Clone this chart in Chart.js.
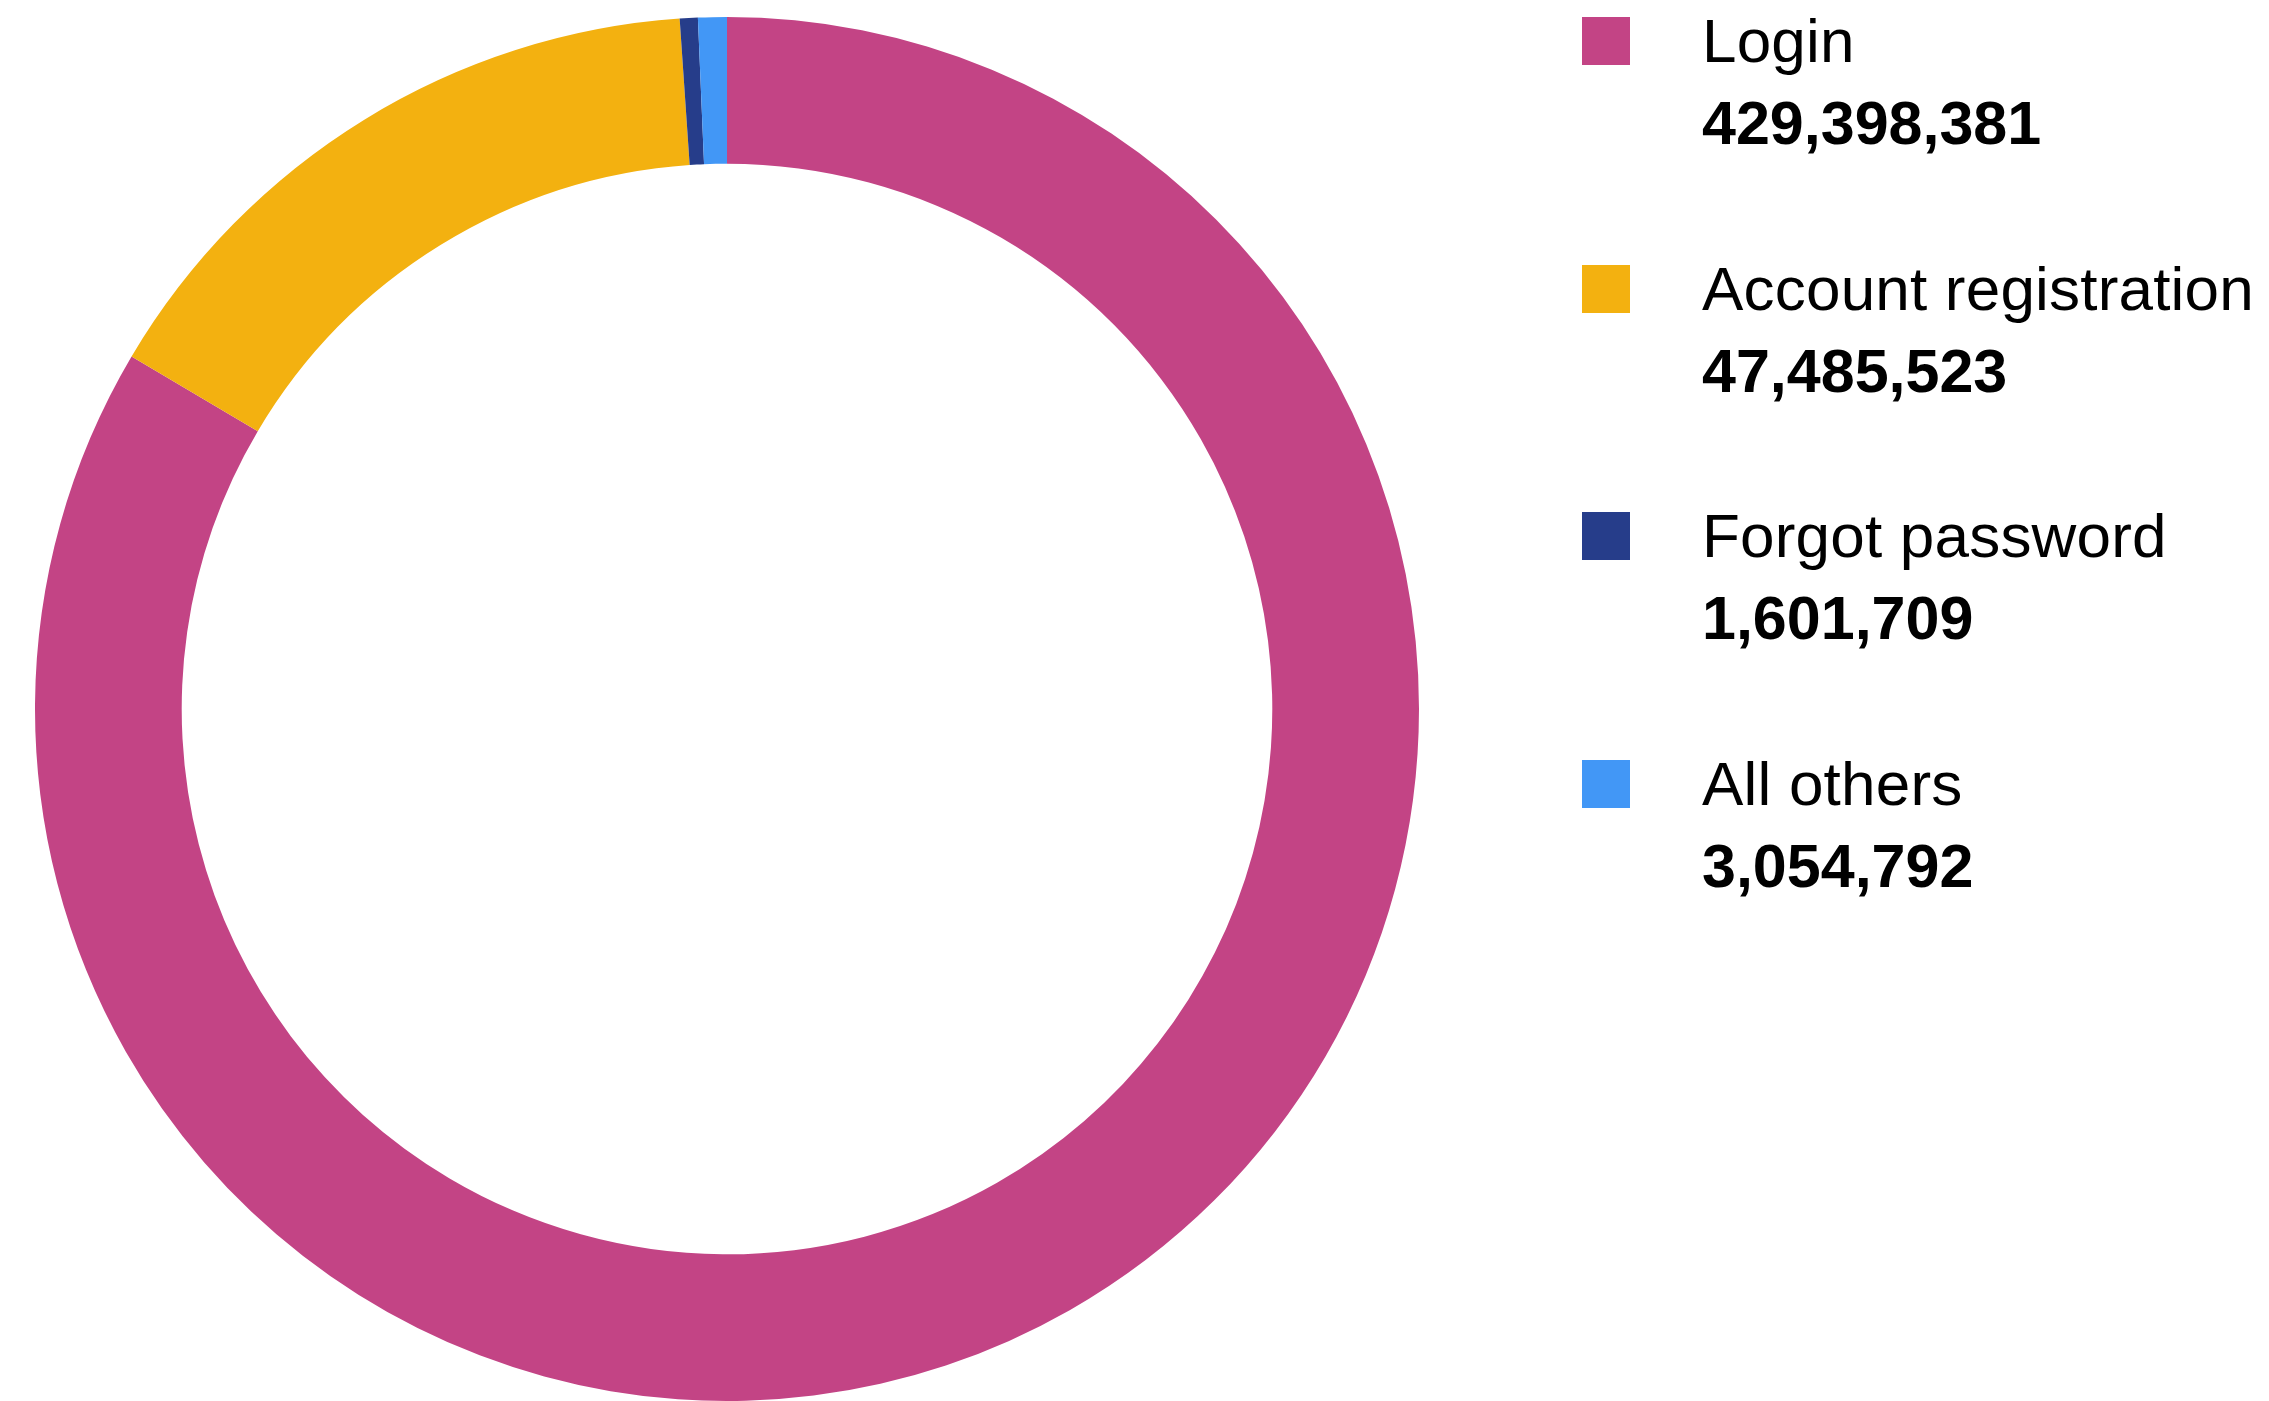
<!DOCTYPE html>
<html>
<head>
<meta charset="utf-8">
<script src="https://cdn.jsdelivr.net/npm/chart.js@4.4.1/dist/chart.umd.min.js"></script>
<style>
  html, body { margin: 0; padding: 0; background: #ffffff; }
  body { width: 2269px; height: 1401px; position: relative; overflow: hidden;
         font-family: "Liberation Sans", Arial, Helvetica, sans-serif; color: #000; }
  #chartBox { position: absolute; left: 35px; top: 17px; width: 1384px; height: 1384px; }
  .item { position: absolute; left: 1582px; }
  .swatch { position: absolute; left: 0; top: 0; width: 48px; height: 48px; }
  .txt { position: absolute; left: 120px; top: -18px; white-space: nowrap; line-height: 83px; }
  .txt .lab { font-size: 62px; letter-spacing: 0.2px; }
  .txt .num { font-size: 61px; font-weight: bold; }
</style>
</head>
<body>
<div id="chartBox"><canvas id="c"></canvas></div>
<div id="legend"></div>
<script>
// Categories
const categories = ["Login", "Account registration", "Forgot password", "All others"];
// Share of the ring drawn for each category (percent, read from the arcs)
const ringShares = [83.5, 15.4, 0.42, 0.67];
// Numbers printed in the legend
const valueLabels = ["429,398,381", "47,485,523", "1,601,709", "3,054,792"];
// Colours
const colors = ["#C34485", "#F3B110", "#263D8A", "#4297F6"];

const legendTops = [17, 264.5, 512, 759.5];
const legend = document.getElementById('legend');
categories.forEach((name, i) => {
  const item = document.createElement('div');
  item.className = 'item';
  item.style.top = legendTops[i] + 'px';
  const sw = document.createElement('div');
  sw.className = 'swatch';
  sw.style.background = colors[i];
  const t = document.createElement('div');
  t.className = 'txt';
  const l1 = document.createElement('div');
  l1.className = 'lab';
  l1.textContent = name;
  const l2 = document.createElement('div');
  l2.className = 'num';
  l2.textContent = valueLabels[i];
  t.appendChild(l1); t.appendChild(l2);
  item.appendChild(sw); item.appendChild(t);
  legend.appendChild(item);
});

new Chart(document.getElementById('c'), {
  type: 'doughnut',
  data: {
    labels: categories,
    datasets: [{
      data: ringShares,
      backgroundColor: colors,
      borderWidth: 0,
      hoverOffset: 0
    }]
  },
  options: {
    responsive: true,
    maintainAspectRatio: false,
    animation: false,
    cutout: '78.8%',
    layout: { padding: 0 },
    plugins: { legend: { display: false }, tooltip: { enabled: false } }
  }
});
</script>
</body>
</html>
